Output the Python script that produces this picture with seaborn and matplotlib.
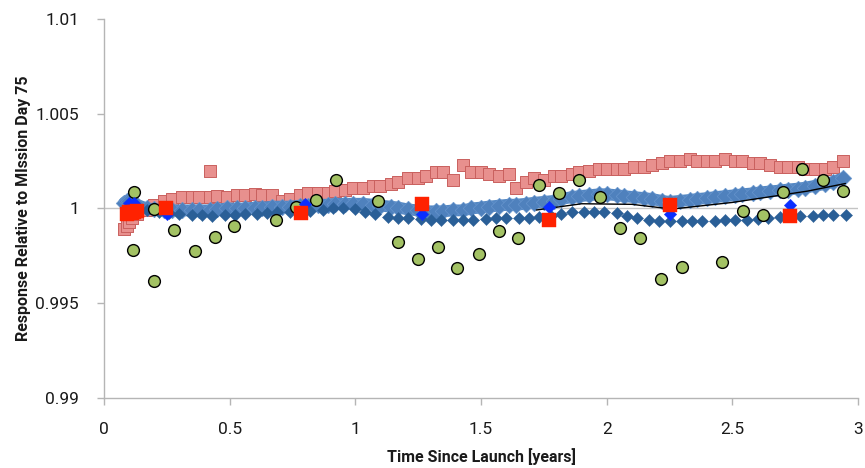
import matplotlib
matplotlib.use("Agg")
import matplotlib.pyplot as plt
import seaborn as sns

sns.set_style("white")
plt.rcParams['font.family'] = ['Roboto', 'DejaVu Sans']

# --- detector response series (time since launch in years) ---
dense_x = [0.08, 0.09, 0.10, 0.11, 0.13, 0.17, 0.20, 0.24, 0.27, 0.31, 0.35, 0.38,
           0.42, 0.45, 0.49, 0.53, 0.56, 0.60, 0.63, 0.67, 0.71, 0.74, 0.78, 0.81,
           0.85, 0.89, 0.92, 0.96, 0.99, 1.03, 1.07, 1.10, 1.14, 1.17, 1.21, 1.25,
           1.28, 1.32, 1.35, 1.39, 1.43, 1.46, 1.50, 1.53, 1.57, 1.61, 1.64, 1.68,
           1.71, 1.75, 1.79, 1.82, 1.86, 1.89, 1.93, 1.97, 2.00, 2.04, 2.07, 2.11,
           2.15, 2.18, 2.22, 2.25, 2.29, 2.33, 2.36, 2.40, 2.43, 2.47, 2.51, 2.54,
           2.58, 2.61, 2.65, 2.69, 2.72, 2.76, 2.79, 2.83, 2.87, 2.90, 2.94]

pink_y = [0.9989, 0.9991, 0.9993, 0.9995, 0.9997, 0.9999, 1.0002, 1.0004, 1.0005, 1.0006,
          1.0006, 1.0006, 1.0006, 1.00065, 1.0006, 1.0007, 1.0007, 1.00075, 1.0007, 1.0007,
          1.0004, 1.0005, 1.0007, 1.0008, 1.0008, 1.0008, 1.0009, 1.0010, 1.0011, 1.0011,
          1.0012, 1.0012, 1.0013, 1.0014, 1.0016, 1.0016, 1.0017, 1.0019, 1.0019, 1.0015,
          1.0023, 1.0019, 1.0019, 1.0018, 1.0017, 1.0018, 1.0011, 1.0014, 1.0016, 1.0015,
          1.0017, 1.0017, 1.0018, 1.0019, 1.0020, 1.0021, 1.0021, 1.0021, 1.0021, 1.0022,
          1.0022, 1.0023, 1.0024, 1.0025, 1.0025, 1.0026, 1.0025, 1.0025, 1.0025, 1.0026,
          1.0025, 1.0025, 1.0024, 1.0024, 1.0023, 1.0022, 1.0022, 1.0022, 1.0021, 1.0021,
          1.0021, 1.0022, 1.0025]
pink_extra_x = [0.42]
pink_extra_y = [1.0020]

band_y = [1.0003, 1.0004, 1.0004, 1.0003, 1.0002, 1.0000, 0.99995, 0.9999, 0.9999, 0.9999,
          0.9999, 0.9999, 0.9999, 0.99995, 1.0000, 1.0000, 1.0000, 1.00005, 1.00005, 1.0001,
          1.0001, 1.0001, 1.00015, 1.00015, 1.0002, 1.0002, 1.00025, 1.00025, 1.00025, 1.00025,
          1.0002, 1.00015, 1.0001, 1.00005, 0.99995, 0.9999, 0.99985, 0.99985, 0.99985, 0.9999,
          0.9999, 1.0000, 1.00005, 1.0001, 1.00015, 1.0002, 1.0002, 1.00025, 1.0003, 1.00035,
          1.0004, 1.0005, 1.0006, 1.00065, 1.0007, 1.00075, 1.00075, 1.0007, 1.00065, 1.0006,
          1.00055, 1.0005, 1.0004, 1.00035, 1.0004, 1.00045, 1.0005, 1.00055, 1.0006, 1.00065,
          1.0007, 1.00075, 1.0008, 1.00085, 1.0009, 1.00095, 1.0010, 1.00105, 1.0011, 1.0012,
          1.0013, 1.0014, 1.0016]

dark_x = [0.13, 0.17, 0.22, 0.26, 0.30, 0.35, 0.39, 0.43, 0.48, 0.52, 0.56, 0.61, 0.65,
          0.69, 0.74, 0.78, 0.82, 0.87, 0.91, 0.95, 1.00, 1.04, 1.08, 1.13, 1.17, 1.21,
          1.26, 1.30, 1.34, 1.39, 1.43, 1.47, 1.52, 1.56, 1.60, 1.65, 1.69, 1.73, 1.78,
          1.82, 1.86, 1.91, 1.95, 1.99, 2.04, 2.08, 2.12, 2.17, 2.21, 2.25, 2.30, 2.34,
          2.38, 2.43, 2.47, 2.51, 2.56, 2.60, 2.64, 2.69, 2.73, 2.77, 2.82, 2.86, 2.90, 2.95]
dark_y = [1.0001, 0.9999, 0.9998, 0.99975, 0.9997, 0.99965, 0.99965, 0.9996, 0.99965, 0.99965,
          0.9997, 0.9997, 0.99975, 0.9998, 0.9998, 0.9998, 0.99985, 0.9999, 1.0000, 1.0000,
          0.99995, 0.9998, 0.9997, 0.99955, 0.9995, 0.9995, 0.99945, 0.9994, 0.9994, 0.9994,
          0.9994, 0.9994, 0.99945, 0.9995, 0.9995, 0.9995, 0.9995, 0.99955, 0.9996, 0.9997,
          0.9998, 0.9998, 0.9998, 0.9998, 0.99975, 0.9996, 0.9995, 0.9994, 0.99935, 0.99935,
          0.99935, 0.99935, 0.99935, 0.99935, 0.9994, 0.9994, 0.9994, 0.99945, 0.9995, 0.99955,
          0.9996, 0.9996, 0.9996, 0.99965, 0.99965, 0.99965]

trend_x = [1.72, 1.90, 2.10, 2.26, 2.50, 2.65, 2.80, 2.95]
trend_y = [0.99992, 1.00025, 1.00022, 0.99997, 1.00032, 1.00062, 1.00092, 1.00132]

green_x = [0.120, 0.116, 0.199, 0.198, 0.278, 0.363, 0.442, 0.518, 0.683, 0.763, 0.844, 0.923,
           1.089, 1.171, 1.248, 1.330, 1.406, 1.491, 1.571, 1.649, 1.732, 1.811, 1.890, 1.973,
           2.053, 2.134, 2.216, 2.299, 2.457, 2.541, 2.620, 2.701, 2.778, 2.860, 2.939]
green_y = [1.00086, 0.99781, 0.99995, 0.99619, 0.99889, 0.99778, 0.99848, 0.99910, 0.99940,
           1.00010, 1.00046, 1.00152, 1.00037, 0.99822, 0.99734, 0.99795, 0.99684, 0.99760,
           0.99880, 0.99843, 1.00122, 1.00083, 1.00148, 1.00060, 0.99898, 0.99843, 0.99628,
           0.99689, 0.99716, 0.99989, 0.99968, 1.00086, 1.00206, 1.00148, 1.00092]

blue_x = [0.10, 0.12, 0.25, 0.80, 1.264, 1.772, 2.253, 2.728]
blue_y = [1.0003, 1.0003, 0.9997, 1.00025, 0.99972, 1.0001, 0.99972, 1.00016]

red_x = [0.09, 0.10, 0.11, 0.12, 0.13, 0.247, 0.782, 1.264, 1.772, 2.253, 2.728]
red_y = [0.9997, 0.9998, 0.99975, 0.9998, 0.99985, 1.0000, 0.99974, 1.00025, 0.9994, 1.0002, 0.99958]

x_ticks = [0, 0.5, 1, 1.5, 2, 2.5, 3]
x_tick_labels = ["0", "0.5", "1", "1.5", "2", "2.5", "3"]
y_ticks = [0.99, 0.995, 1.0, 1.005, 1.01]
y_tick_labels = ["0.99", "0.995", "1", "1.005", "1.01"]

fig = plt.figure(figsize=(8.65, 4.68), dpi=100)
ax = fig.add_axes([0.1202, 0.1496, 0.8718, 0.8098])

ax.axhline(1.0, color="#C4C4C4", lw=1.0, zorder=0.5)

sns.scatterplot(x=dense_x, y=pink_y, marker="s", s=76, color="#E8908E",
                edgecolor="#C9605E", linewidth=0.7, ax=ax, zorder=2)
sns.scatterplot(x=pink_extra_x, y=pink_extra_y, marker="s", s=76, color="#E8908E",
                edgecolor="#C9605E", linewidth=0.7, ax=ax, zorder=2)
# reference channel: thick connected band of diamonds
sns.lineplot(x=dense_x, y=band_y, color="#5387C3", lw=8.5, ax=ax, zorder=2.9,
             estimator=None, sort=False, solid_capstyle="round")
sns.scatterplot(x=dense_x, y=band_y, marker="D", s=72, color="#4F81BD",
                edgecolor="#6A98D0", linewidth=0.4, ax=ax, zorder=3)
sns.lineplot(x=trend_x, y=trend_y, color="black", lw=1.0, ax=ax, zorder=3.2,
             estimator=None, sort=False)
sns.scatterplot(x=dark_x, y=dark_y, marker="D", s=38, color="#2A5F97",
                edgecolor="#2A5F97", linewidth=0.3, ax=ax, zorder=3.5)
sns.scatterplot(x=green_x, y=green_y, marker="o", s=72, color="#A3C264",
                edgecolor="black", linewidth=1.0, ax=ax, zorder=4)
sns.scatterplot(x=blue_x, y=blue_y, marker="D", s=40, color="#0A2EFF",
                edgecolor="#0A2EFF", linewidth=0.3, ax=ax, zorder=5)
sns.scatterplot(x=red_x, y=red_y, marker="s", s=88, color="#FF2200",
                edgecolor="#FF2200", linewidth=0.3, ax=ax, zorder=6)

ax.set_xlim(0, 3)
ax.set_ylim(0.99, 1.01)
ax.set_xticks(x_ticks)
ax.set_xticklabels(x_tick_labels)
ax.set_yticks(y_ticks)
ax.set_yticklabels(y_tick_labels)

for side in ("top", "right"):
    ax.spines[side].set_visible(False)
for side in ("left", "bottom"):
    ax.spines[side].set_color("#B5B5B5")
    ax.spines[side].set_linewidth(1.0)

ax.tick_params(axis="both", which="major", direction="out", length=5, width=1,
               color="#B5B5B5", labelsize=12.5, labelcolor="#1A1A1A",
               bottom=True, left=True)
ax.tick_params(axis="x", pad=12)
ax.tick_params(axis="y", pad=13)

ax.set_xlabel("Time Since Launch [years]", fontsize=11.5, fontweight="bold",
              color="#1A1A1A", labelpad=8)
ax.set_ylabel("Response Relative to MIssion Day 75", fontsize=11.5,
              fontweight="bold", color="#1A1A1A", labelpad=3)

fig.savefig("out.png", dpi=100)
